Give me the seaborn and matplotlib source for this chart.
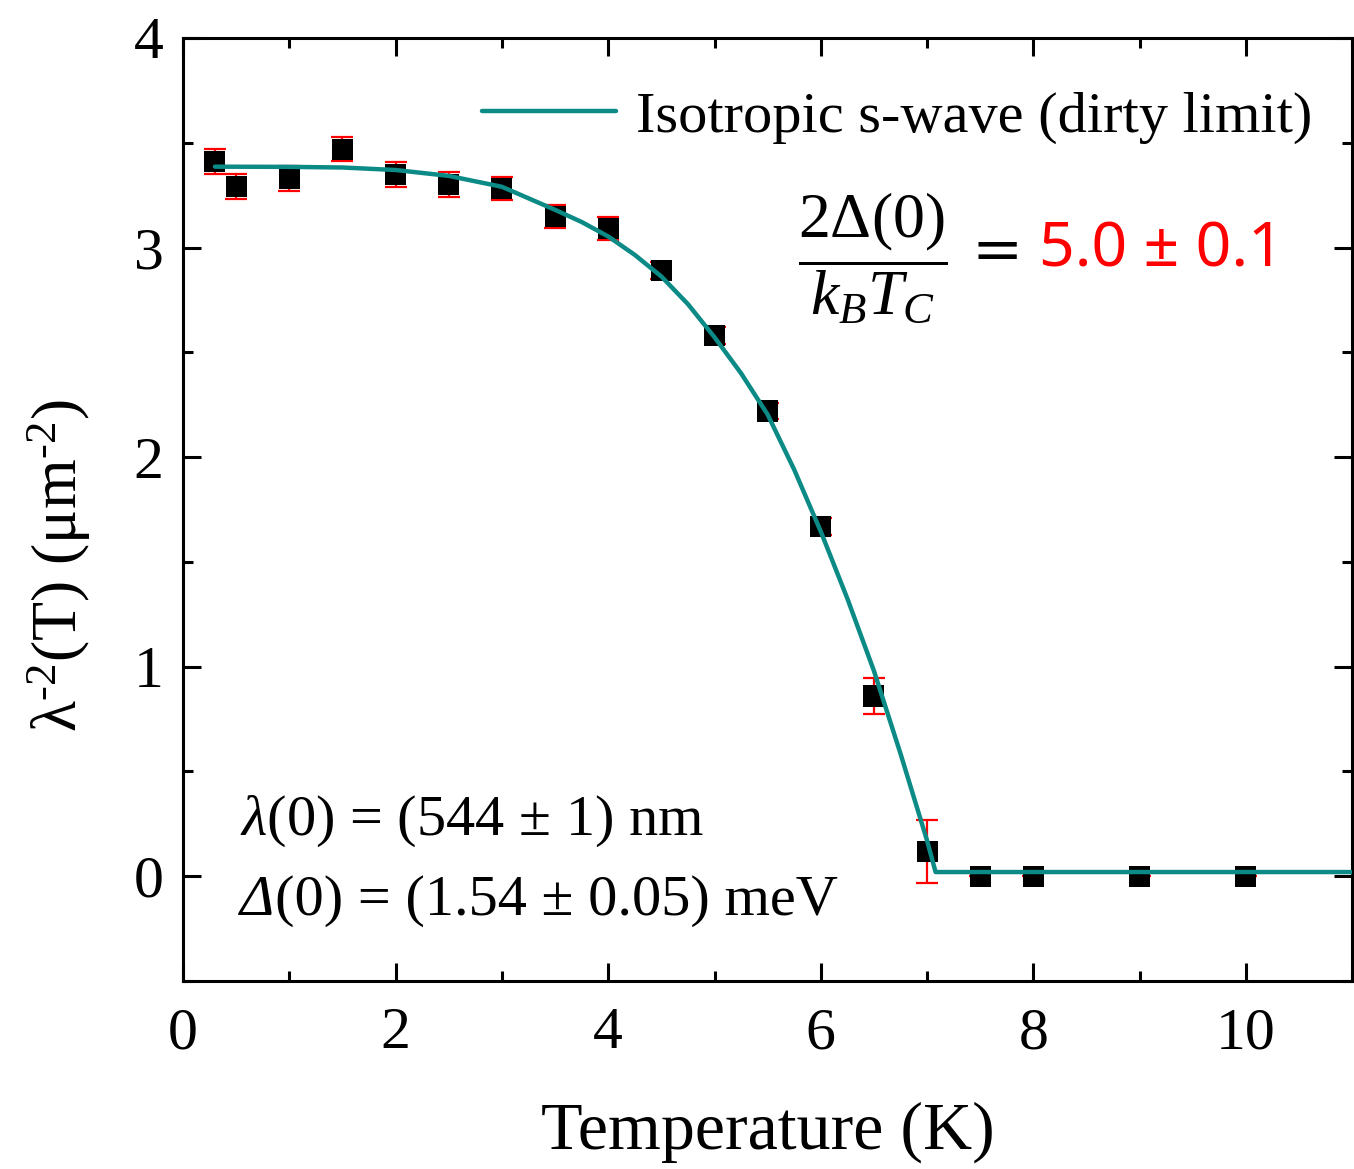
import numpy as np
import pandas as pd
import matplotlib
matplotlib.use("Agg")
import matplotlib.pyplot as plt
import seaborn as sns
from matplotlib.ticker import MultipleLocator

# Measured superfluid density points
temperature = [0.3, 0.5, 1.0, 1.5, 2.0, 2.5, 3.0, 3.5, 4.0, 4.5, 5.0, 5.5, 6.0, 6.5, 7.0, 7.5, 8.0, 9.0, 10.0]
lambda_inv2 = [3.41, 3.29, 3.33, 3.47, 3.35, 3.30, 3.28, 3.15, 3.09, 2.89, 2.58, 2.22, 1.67, 0.86, 0.12, 0.0, 0.0, 0.0, 0.0]
lambda_err = [0.06, 0.06, 0.06, 0.057, 0.06, 0.06, 0.055, 0.055, 0.055, 0.04, 0.04, 0.04, 0.04, 0.088, 0.15, 0.0, 0.0, 0.0, 0.0]

# Isotropic s-wave (dirty limit) fit curve
fit_T = [0.3, 1.0, 1.5, 2.0, 2.5, 3.0, 3.5, 3.75, 4.0, 4.25, 4.5, 4.75, 5.0, 5.25, 5.5, 5.75, 6.0, 6.25, 6.5, 6.75, 7.0, 7.08, 8.0, 9.0, 10.0, 11.0]
fit_y = [3.386, 3.385, 3.382, 3.37, 3.342, 3.29, 3.18, 3.122, 3.053, 2.965, 2.862, 2.73, 2.572, 2.40, 2.203, 1.94, 1.645, 1.325, 0.98, 0.585, 0.17, 0.02, 0.02, 0.02, 0.02, 0.02]

sns.set_style("ticks")
plt.rcParams['font.family'] = ['Liberation Serif', 'DejaVu Serif']
plt.rcParams['mathtext.fontset'] = 'custom'
plt.rcParams['mathtext.rm'] = 'Liberation Serif'
plt.rcParams['mathtext.it'] = 'Liberation Serif:italic'
plt.rcParams['mathtext.bf'] = 'Liberation Serif:bold'
for key in ['text.color', 'axes.labelcolor', 'xtick.color', 'ytick.color', 'axes.edgecolor']:
    plt.rcParams[key] = 'black'

fig = plt.figure(figsize=(13.54, 11.69), dpi=100)
ax = fig.add_axes([0.1352, 0.1608, 0.8635, 0.8067])

data = pd.DataFrame({'T': temperature, 'y': lambda_inv2, 'err': lambda_err})
fit = pd.DataFrame({'T': fit_T, 'y': fit_y})

ax.errorbar(data['T'], data['y'], yerr=data['err'], fmt='none', ecolor='red',
            elinewidth=1.6, capsize=8, capthick=1.6, zorder=2)
sns.scatterplot(data=data, x='T', y='y', marker='s', s=230, color='black',
                edgecolor='none', ax=ax, zorder=3)
sns.lineplot(data=fit, x='T', y='y', color='#0b8a86', linewidth=3.2, ax=ax,
             label='Isotropic s-wave (dirty limit)', zorder=4)

ax.set_xlim(0, 11)
ax.set_ylim(-0.5, 4)
ax.xaxis.set_major_locator(MultipleLocator(2))
ax.xaxis.set_minor_locator(MultipleLocator(1))
ax.yaxis.set_major_locator(MultipleLocator(1))
ax.yaxis.set_minor_locator(MultipleLocator(0.5))
ax.tick_params(which='both', direction='in', top=True, right=True, width=2.2)
ax.tick_params(which='major', length=13, labelsize=43)
ax.tick_params(axis='x', which='major', pad=19)
ax.tick_params(axis='y', which='major', pad=14)
ax.tick_params(which='minor', length=7)
for s in ax.spines.values():
    s.set_linewidth(2.2)

ax.set_xlabel('Temperature (K)', fontsize=49, labelpad=29)
ax.set_ylabel(r'λ$^{\text{-2}}$(T) (μm$^{\text{-2}}$)', fontsize=46)
ax.yaxis.set_label_coords(-0.077, 0.44)

leg = ax.legend(loc='upper right', bbox_to_anchor=(1.011, 1.0), frameon=False,
                fontsize=42, handlelength=2.3, handletextpad=0.35)

ax.text(0.59, 0.767, r'$\dfrac{2\Delta(0)}{k_B T_C}$', transform=ax.transAxes,
        fontsize=46, ha='center', va='center')
ax.text(0.696, 0.773, '=', transform=ax.transAxes, fontsize=44,
        ha='center', va='center', family='DejaVu Sans')
ax.text(0.732, 0.775, '5.0 ± 0.1', transform=ax.transAxes, fontsize=45,
        ha='left', va='center', color='red', family=['Liberation Sans Narrow', 'Noto Sans'])

ax.text(0.049, 0.155, r'$\lambda$(0) = (544 ± 1) nm', transform=ax.transAxes,
        fontsize=42, ha='left', va='baseline')
delta = ax.text(0.049, 0.07, 'Δ', transform=ax.transAxes, fontsize=42,
                ha='left', va='baseline', style='italic')
ax.annotate('(0) = (1.54 ± 0.05) meV', xy=(1, 0), xycoords=delta,
            fontsize=42, ha='left', va='bottom')

fig.savefig('out.png', dpi=100)
